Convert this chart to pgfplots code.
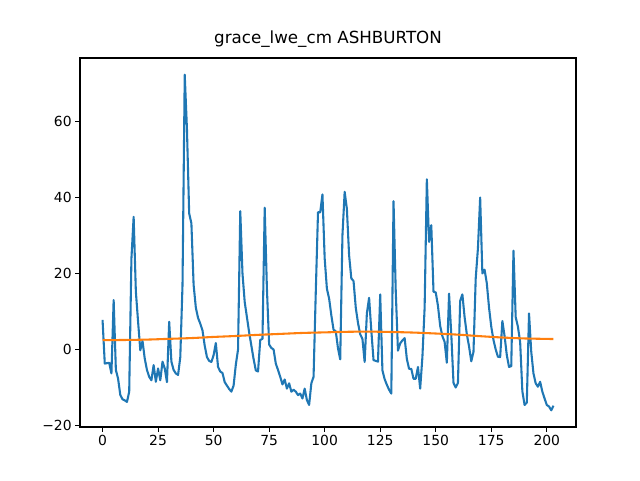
\documentclass[border=0pt]{standalone}
\usepackage{fontspec}
\setmainfont{DejaVu Sans}
\usepackage{pgfplots}
\usepackage{pgfplotstable}
\pgfplotsset{compat=1.18}
\definecolor{c0}{HTML}{1F77B4}
\definecolor{c1}{HTML}{FF7F0E}
\pgfplotstableread{
x y
0 7.8
1 -3.7
2 -3.6
3 -3.5
4 -6.3
5 13.0
6 -5.4
7 -7.7
8 -12.0
9 -13.1
10 -13.4
11 -13.8
12 -11.1
13 23.9
14 34.9
15 15.2
16 7.3
17 -0.2
18 2.2
19 -2.4
20 -5.4
21 -7.2
22 -8.1
23 -4.1
24 -8.5
25 -5.0
26 -8.1
27 -3.2
28 -5.0
29 -8.6
30 7.3
31 -3.2
32 -5.4
33 -6.3
34 -6.7
35 -2.0
36 17.0
37 72.3
38 58.0
39 35.8
40 33.2
41 17.0
42 11.0
43 8.3
44 6.8
45 5.0
46 1.0
47 -2.0
48 -3.0
49 -3.3
50 -1.5
51 1.7
52 -4.6
53 -5.8
54 -6.2
55 -8.6
56 -9.5
57 -10.4
58 -11.1
59 -9.5
60 -4.0
61 0.0
62 36.4
63 20.0
64 12.5
65 8.5
66 4.5
67 1.0
68 -2.5
69 -5.5
70 -5.8
71 2.5
72 2.8
73 37.3
74 16.0
75 1.3
76 0.4
77 0.0
78 -3.7
79 -5.4
80 -7.2
81 -9.2
82 -7.9
83 -10.3
84 -8.9
85 -11.1
86 -10.6
87 -11.1
88 -12.0
89 -11.6
90 -12.9
91 -10.3
92 -13.3
93 -14.6
94 -8.9
95 -7.2
96 15.2
97 36.1
98 36.1
99 40.8
100 24.0
101 16.0
102 13.4
103 9.0
104 5.2
105 4.8
106 0.3
107 -2.6
108 30.0
109 41.5
110 37.0
111 24.8
112 18.7
113 18.0
114 11.0
115 7.0
116 4.0
117 2.8
118 -3.3
119 9.5
120 13.6
121 5.0
122 -2.8
123 -3.0
124 -3.2
125 14.5
126 -5.5
127 -7.8
128 -9.3
129 -10.6
130 -11.6
131 39.0
132 15.3
133 -0.3
134 1.6
135 2.4
136 3.0
137 -2.5
138 -5.1
139 -5.1
140 -7.7
141 -7.7
142 -4.6
143 -10.3
144 -2.0
145 11.0
146 44.8
147 28.3
148 32.7
149 15.2
150 15.0
151 11.5
152 6.2
153 3.5
154 2.0
155 -3.5
156 14.7
157 4.0
158 -8.8
159 -10.0
160 -8.8
161 12.8
162 14.5
163 8.5
164 4.0
165 0.8
166 -3.1
167 -0.6
168 18.7
169 26.6
170 40.0
171 20.0
172 21.0
173 17.4
174 11.0
175 6.0
176 2.5
177 0.0
178 -1.9
179 -2.0
180 7.5
181 3.5
182 -1.5
183 -4.6
184 -4.4
185 26.0
186 8.5
187 6.0
188 2.0
189 -11.0
190 -14.6
191 -14.0
192 9.5
193 -0.6
194 -6.3
195 -8.9
196 -9.8
197 -8.5
198 -11.1
199 -12.9
200 -14.6
201 -15.0
202 -16.0
203 -14.8
}\grace
\pgfplotstableread{
x y
0 2.45
10 2.5
20 2.6
30 2.8
40 3.0
50 3.3
60 3.55
70 3.85
80 4.1
90 4.35
100 4.5
110 4.65
120 4.7
130 4.6
140 4.45
150 4.2
160 3.9
170 3.5
180 3.15
190 2.9
203 2.75
}\trend
\begin{document}
\begin{tikzpicture}[x=1pt,y=1pt]
\path[use as bounding box] (0,0) rectangle (640,480);
\begin{axis}[
  at={(80pt,53pt)}, anchor=south west,
  scale only axis, width=496pt, height=369pt,
  xmin=-10.15, xmax=213.15, ymin=-20.4, ymax=76.7,
  xtick={0,25,...,200},
  ytick={-20,0,20,40,60}, yticklabels={−20,0,20,40,60},
  tick align=outside, tick pos=left,
  major tick length=4.86pt,
  every tick/.style={black, line width=1.11pt},
  axis line style={line width=1.11pt},
  tick label style={font=\fontsize{13.9}{16}\selectfont},
  /pgf/number format/assume math mode=true,
  title={grace\_lwe\_cm ASHBURTON},
  title style={font=\fontsize{16.7}{20}\selectfont, at={(0.5,1)}, anchor=base, yshift=8.3pt},
]
\addplot[c0, line width=2.08pt, line join=round] table[x=x,y=y] {\grace};
\addplot[c1, line width=2.08pt, smooth] table[x=x,y=y] {\trend};
\end{axis}
\end{tikzpicture}
\end{document}
